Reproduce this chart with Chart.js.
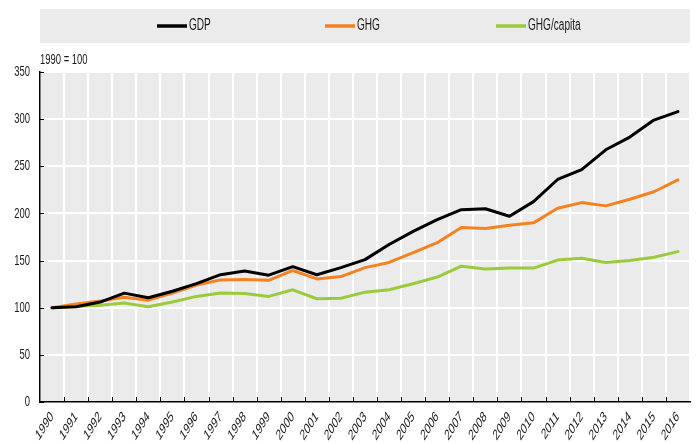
<!DOCTYPE html>
<html>
<head>
<meta charset="utf-8">
<script src="https://cdn.jsdelivr.net/npm/chart.js@4/dist/chart.umd.min.js"></script>
<style>
html,body{margin:0;padding:0;background:#fff;}
#wrap{width:697px;height:444px;position:relative;}
</style>
</head>
<body>
<div id="wrap"><canvas id="c" width="697" height="444"></canvas></div>
<script>
const years = ["1990","1991","1992","1993","1994","1995","1996","1997","1998","1999","2000","2001","2002","2003","2004","2005","2006","2007","2008","2009","2010","2011","2012","2013","2014","2015","2016"];
const gdp = [100,101,106,115.5,110.5,117.5,125.5,135,139,134.5,143.5,135,142.5,151,167,181,193.5,204,205,197,212.5,236,246.5,267.5,281,299,308];
const ghg = [100,104,107,111,108,115.5,124,129.5,130,129,139.5,130.5,133,142.5,148,158.5,169,185,184,187.5,190,205.5,211.5,208,215,223,235.5];
const ghgPerCapita = [100,101.5,102.5,105,101,106,112,115.5,115,112,119,109.5,110,116.5,119,125.5,132.5,144,141,142,142,150.5,152.5,148,150,153.5,159.5];
const seriesNames = ["GDP","GHG","GHG/capita"];
const seriesColors = ["#000000","#F58220","#9BCB3B"];
const yTicks = [0,50,100,150,200,250,300,350];
const unitLabel = "1990 = 100";

const FONT = "'Liberation Sans', Arial, sans-serif";
const SQUISH = 0.63;

const canvas = document.getElementById('c');
const ctx2d = canvas.getContext('2d');
// Narrow text rendering: compress glyphs horizontally around their anchor point
const origFillText = CanvasRenderingContext2D.prototype.fillText;
ctx2d.fillText = function (t, x, y, mw) {
  const m = this.getTransform();
  const qx = m.a * x + m.c * y + m.e, qy = m.b * x + m.d * y + m.f;
  this.save();
  this.setTransform(SQUISH * m.a, m.b, SQUISH * m.c, m.d, qx, qy);
  origFillText.call(this, t, 0, 0);
  this.restore();
};

const decor = {
  id: 'decor',
  beforeDraw(chart) {
    const {ctx, chartArea: a} = chart;
    ctx.save();
    ctx.fillStyle = '#EBEBEB';
    ctx.fillRect(a.left, a.top, a.right - a.left, a.bottom - a.top);
    // legend band
    ctx.fillRect(a.left, 9, a.right - a.left, 34);
    const itemX = [157, 325, 496];
    ctx.font = "16px " + FONT;
    ctx.textBaseline = 'middle';
    ctx.textAlign = 'left';
    ctx.lineWidth = 3.5;
    seriesNames.forEach((n, i) => {
      ctx.strokeStyle = seriesColors[i];
      ctx.beginPath();
      ctx.moveTo(itemX[i], 26);
      ctx.lineTo(itemX[i] + 30, 26);
      ctx.stroke();
      ctx.fillStyle = '#1a1a1a';
      ctx.fillText(n, itemX[i] + 32, 26);
    });
    ctx.font = "15px " + FONT;
    ctx.fillStyle = '#1a1a1a';
    ctx.fillText(unitLabel, 40, 60);
    ctx.restore();
  },
  afterDraw(chart) {
    const {ctx, chartArea: a, scales} = chart;
    ctx.save();
    ctx.strokeStyle = '#000';
    ctx.lineWidth = 1;
    yTicks.forEach(v => {
      const y = Math.round(scales.y.getPixelForValue(v)) + 0.5;
      ctx.beginPath(); ctx.moveTo(a.left, y); ctx.lineTo(a.left + 4, y); ctx.stroke();
    });
    for (let i = 1; i < years.length; i++) {
      const x = Math.round((scales.x.getPixelForValue(i - 1) + scales.x.getPixelForValue(i)) / 2) + 0.5;
      ctx.beginPath(); ctx.moveTo(x, a.bottom); ctx.lineTo(x, a.bottom - 5); ctx.stroke();
    }
    ctx.restore();
  }
};

new Chart(canvas, {
  type: 'line',
  data: {
    labels: years,
    datasets: [
      {label: seriesNames[0], data: gdp, borderColor: seriesColors[0]},
      {label: seriesNames[1], data: ghg, borderColor: seriesColors[1]},
      {label: seriesNames[2], data: ghgPerCapita, borderColor: seriesColors[2]}
    ].map(d => Object.assign(d, {borderWidth: 3, pointRadius: 0, tension: 0, fill: false, borderJoinStyle: 'round', borderCapStyle: 'round'}))
  },
  options: {
    responsive: false,
    animation: false,
    devicePixelRatio: 1,
    layout: {padding: {top: 72, right: 7, left: 0, bottom: 0}},
    plugins: {legend: {display: false}, tooltip: {enabled: false}, title: {display: false}},
    scales: {
      x: {
        offset: true,
        grid: {offset: true, color: '#FFFFFF', lineWidth: 2, drawTicks: false},
        border: {color: '#000', width: 1.5},
        ticks: {color: '#1a1a1a', font: {family: FONT, size: 15}, maxRotation: 45, minRotation: 45, padding: 6, autoSkip: false},
        afterFit(s) { s.height = 42; }
      },
      y: {
        min: 0, max: 350,
        afterBuildTicks(s) { s.ticks = yTicks.map(v => ({value: v})); },
        grid: {color: '#FFFFFF', lineWidth: 2, drawTicks: false},
        border: {color: '#000', width: 1.5},
        ticks: {color: '#1a1a1a', font: {family: FONT, size: 15}, padding: 10},
        afterFit(s) { s.width = 40; }
      }
    }
  },
  plugins: [decor]
});
</script>
</body>
</html>
